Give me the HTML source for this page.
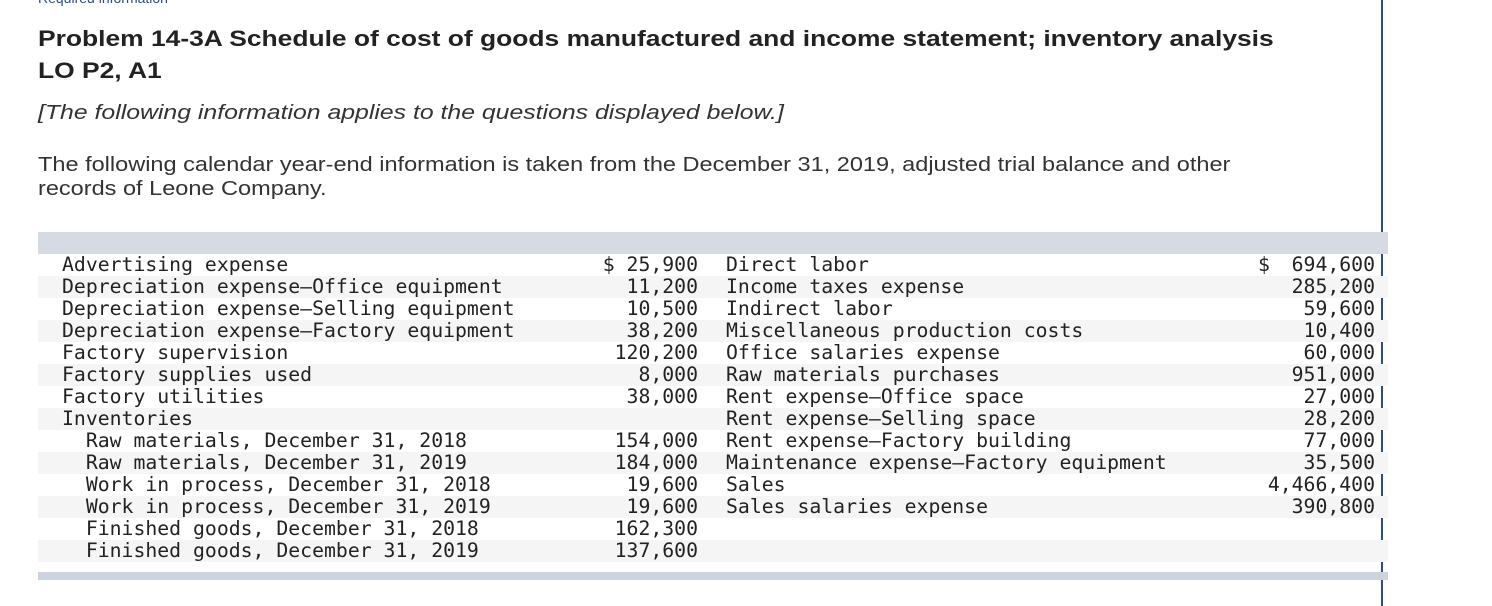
<!DOCTYPE html>
<html><head><meta charset="utf-8">
<style>
html,body{margin:0;padding:0;background:#fff;}
body{width:1492px;height:606px;position:relative;overflow:hidden;font-family:"Liberation Sans",sans-serif;color:#222;}
.vline{position:absolute;left:1381px;top:0;width:2px;height:606px;background:#2b4c8c;}
.t{position:absolute;left:38px;white-space:nowrap;transform-origin:0 0;}
#title{top:23px;font-size:22px;font-weight:bold;line-height:32px;color:#222;transform:scaleX(1.20);}
#note{top:102px;font-size:20px;font-style:italic;color:#333;transform:scaleX(1.24);}
#para{top:153px;font-size:20px;line-height:24px;color:#333;transform:scaleX(1.176);}
.band{position:absolute;left:38px;width:1350px;background:#d6dae3;}
.row{position:absolute;left:38px;width:1350px;height:22px;}
.row.g{background:#f5f5f5;}
.m{position:absolute;top:0;font-family:"DejaVu Sans Mono","Liberation Mono",monospace;font-size:19.8px;line-height:22px;white-space:pre;color:#222;}
.r{text-align:right;}
</style></head><body>
<div class="vline"></div>
<div class="t" style="top:-10px;font-size:14px;color:#2b4c8c;">Required information</div>
<div class="t" id="title">Problem 14-3A Schedule of cost of goods manufactured and income statement; inventory analysis<br>LO P2, A1</div>
<div class="t" id="note">[The following information applies to the questions displayed below.]</div>
<div class="t" id="para">The following calendar year-end information is taken from the December 31, 2019, adjusted trial balance and other<br>records of Leone Company.</div>
<div class="band" style="top:232px;height:22px;"></div>
<div id="rows"></div>
<div class="band" style="top:572px;height:8px;background:#ccd2de;"></div>
<script>
const leftLabels=["Advertising expense","Depreciation expense\u2014Office equipment","Depreciation expense\u2014Selling equipment","Depreciation expense\u2014Factory equipment","Factory supervision","Factory supplies used","Factory utilities","Inventories","  Raw materials, December 31, 2018","  Raw materials, December 31, 2019","  Work in process, December 31, 2018","  Work in process, December 31, 2019","  Finished goods, December 31, 2018","  Finished goods, December 31, 2019"];
const leftValues=["$ 25,900","11,200","10,500","38,200","120,200","8,000","38,000","","154,000","184,000","19,600","19,600","162,300","137,600"];
const rightLabels=["Direct labor","Income taxes expense","Indirect labor","Miscellaneous production costs","Office salaries expense","Raw materials purchases","Rent expense\u2014Office space","Rent expense\u2014Selling space","Rent expense\u2014Factory building","Maintenance expense\u2014Factory equipment","Sales","Sales salaries expense","",""];
const rightValues=["694,600","285,200","59,600","10,400","60,000","951,000","27,000","28,200","77,000","35,500","4,466,400","390,800","",""];
const c=document.getElementById('rows');
leftLabels.forEach((l,i)=>{
  const r=document.createElement('div');
  r.className='row'+(i%2?' g':'');
  r.style.top=(254+i*22)+'px';
  
  
  const a=document.createElement('div');a.className='m';a.style.left='24px';a.textContent=l;
  
  
  const b=document.createElement('div');b.className='m r';b.style.right=(1350-660)+'px';b.textContent=leftValues[i];
  
  
  const d=document.createElement('div');d.className='m';d.style.left='688px';d.textContent=rightLabels[i];
  
  
  const e=document.createElement('div');e.className='m r';e.style.right=(1350-1337)+'px';e.textContent=rightValues[i];
  
  
  r.append(a,b,d,e);
  if(i===0){const s=document.createElement('div');s.className='m';s.style.left='1220px';s.textContent='$';
    
    
    r.append(s);}
  c.appendChild(r);
});
</script>
</body></html>
